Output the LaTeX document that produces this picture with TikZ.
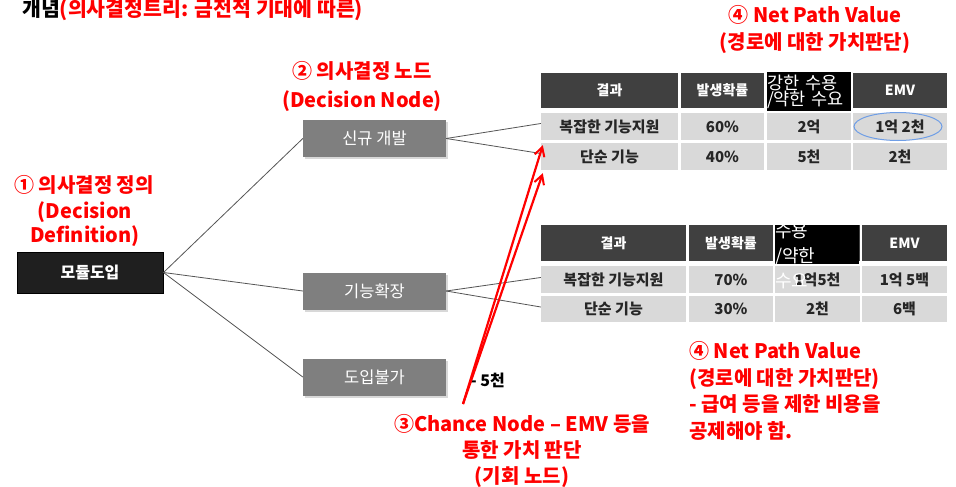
\documentclass[tikz,border=0pt]{standalone}
\usepackage{fontspec}
\setmainfont{Noto Sans CJK KR}
\usetikzlibrary{arrows.meta,shadows,shapes.geometric}
\definecolor{boxgray}{HTML}{7F7F7F}
\definecolor{hdrgray}{HTML}{404040}
\definecolor{cellgray}{HTML}{D9D9D9}
\definecolor{linegray}{HTML}{555555}
\definecolor{ellblue}{HTML}{6F9EE6}
\definecolor{rd}{HTML}{FF0000}
\begin{document}
\begin{tikzpicture}[x=1pt,y=-1pt,
  redlbl/.style={text=rd, font=\bfseries\fontsize{20}{27}\selectfont, align=center, inner sep=0pt},
  gbox/.style={fill=boxgray, text=white, font=\fontsize{16.5}{18}\selectfont, minimum width=143pt, minimum height=37pt, inner sep=0pt,
     drop shadow={shadow xshift=2pt, shadow yshift=-2pt, opacity=0.3}},
  conn/.style={draw=linegray, line width=0.8pt},
  hdr/.style={fill=hdrgray, text=white, font=\bfseries\fontsize{14}{16}\selectfont, inner sep=0pt},
  cell/.style={fill=cellgray, text=black!85, font=\bfseries\fontsize{15}{17}\selectfont, inner sep=0pt},
  blk/.style={fill=black, text=white, font=\fontsize{17.5}{16}\selectfont, align=left, inner sep=0pt},
  redarrow/.style={draw=rd, line width=2.2pt, -{Straight Barb[length=9pt,width=10pt,line width=2pt]}}
]
\useasboundingbox[fill=white] (0,0) rectangle (956,487);

% title
\node[anchor=west, inner sep=0pt, font=\bfseries\fontsize{20.5}{22}\selectfont] (title) at (22,10) {개념\textcolor{rd}{(의사결정트리: 금전적 기대에 따른)}};

% red labels
\node[redlbl] (npv1) at (815,30) {④ Net Path Value\\(경로에 대한 가치판단)};
\node[redlbl, font=\bfseries\fontsize{20}{29}\selectfont] (dnode) at (362,86.5) {② 의사결정 노드\\(Decision Node)};
\node[redlbl] (ddef1) at (84,185) {① 의사결정 정의};
\node[redlbl, font=\bfseries\fontsize{20}{24}\selectfont] (ddef2) at (85,224.5) {(Decision\\Definition)};
\node[redlbl, font=\bfseries\fontsize{20}{26}\selectfont] (chance) at (522,451) {③Chance Node – EMV 등을\\통한 가치 판단\\(기회 노드)};
\node[redlbl, align=left, anchor=west, font=\bfseries\fontsize{20}{26.5}\selectfont] (npv2) at (689,391) {④ Net Path Value\\(경로에 대한 가치판단)\\- 급여 등을 제한 비용을\\공제해야 함.};

% decision boxes
\node[fill=black!88, draw=black, line width=1pt, text=white, font=\bfseries\fontsize{16}{18}\selectfont,
      minimum width=146pt, minimum height=41pt, inner sep=0pt] (root) at (90,272.5) {모듈도입};
\node[gbox] (sg) at (374.5,138.5) {신규 개발};
\node[gbox] (ext) at (374.5,291) {기능확장};
\node[gbox] (no) at (374.5,377) {도입불가};

% top table
\node[hdr, minimum width=137pt, minimum height=35pt] (a00) at (609.5,90.5) {결과};
\node[hdr, minimum width=83pt, minimum height=35pt] (a01) at (722.5,90.5) {발생확률};
\node[hdr, minimum width=84pt, minimum height=35pt] (a02) at (809,90.5) {};
\node[hdr, minimum width=94pt, minimum height=35pt] (a03) at (900,90.5) {EMV};
\node[cell, minimum width=137pt, minimum height=27pt] (a10) at (609.5,126.5) {복잡한 기능지원};
\node[cell, minimum width=83pt, minimum height=27pt] (a11) at (722.5,126.5) {60\%};
\node[cell, minimum width=84pt, minimum height=27pt] (a12) at (809,126.5) {2억};
\node[cell, minimum width=94pt, minimum height=27pt] (a13) at (900,126.5) {1억 2천};
\node[cell, minimum width=137pt, minimum height=27pt] (a20) at (609.5,156.5) {단순 기능};
\node[cell, minimum width=83pt, minimum height=27pt] (a21) at (722.5,156.5) {40\%};
\node[cell, minimum width=84pt, minimum height=27pt] (a22) at (809,156.5) {5천};
\node[cell, minimum width=94pt, minimum height=27pt] (a23) at (900,156.5) {2천};
\node[blk, minimum width=84pt, minimum height=39pt, text width=84pt] (ablk) at (809,91.5) {강한 수용\\/약한 수요};
\node[draw=ellblue, line width=1pt, ellipse, minimum width=88pt, minimum height=28pt, inner sep=0pt] (ell) at (898,126.5) {};

% bottom table
\node[hdr, minimum width=145pt, minimum height=36pt] (b00) at (613.5,243) {결과};
\node[hdr, minimum width=84pt, minimum height=36pt] (b01) at (731,243) {발생확률};
\node[hdr, minimum width=85pt, minimum height=36pt] (b02) at (817.5,243) {};
\node[hdr, minimum width=85pt, minimum height=36pt] (b03) at (904.5,243) {EMV};
\node[cell, minimum width=145pt, minimum height=27pt] (b10) at (613.5,279.5) {복잡한 기능지원};
\node[cell, minimum width=84pt, minimum height=27pt] (b11) at (731,279.5) {70\%};
\node[cell, minimum width=85pt, minimum height=27pt] (b12) at (817.5,279.5) {1억5천};
\node[cell, minimum width=85pt, minimum height=27pt] (b13) at (904.5,279.5) {1억 5백};
\node[cell, minimum width=145pt, minimum height=26pt] (b20) at (613.5,309) {단순 기능};
\node[cell, minimum width=84pt, minimum height=26pt] (b21) at (731,309) {30\%};
\node[cell, minimum width=85pt, minimum height=26pt] (b22) at (817.5,309) {2천};
\node[cell, minimum width=85pt, minimum height=26pt] (b23) at (904.5,309) {6백};
\fill[black] (775,225) rectangle (859,264);
\node[blk, fill=none, anchor=west, font=\fontsize{18}{25}\selectfont] (bblk) at (775,256) {수용\\/약한\\수요};

% connectors
\draw[conn] (root.east) -- (sg.west);
\draw[conn] (root.east) -- (ext.west);
\draw[conn] (root.east) -- (no.west);
\draw[conn] (sg.east) -- ([yshift=3pt]a10.west);
\draw[conn] (sg.east) -- ([yshift=3pt]a20.west);
\draw[conn] (ext.east) -- ([yshift=2pt]b10.west);
\draw[conn] (ext.east) -- ([yshift=2pt]b20.west);

% minus 5 cheon
\node[anchor=east, inner sep=0pt, font=\bfseries\fontsize{16}{18}\selectfont] (m5) at (505,380) {- 5천};

% red arrows
\coordinate (ar) at (463,404);
\draw[redarrow] (ar) -- ([shift={(2pt,-5pt)}]a10.south west);
\draw[redarrow] (ar) -- ([shift={(2pt,-3pt)}]a20.south west);
\end{tikzpicture}
\end{document}
